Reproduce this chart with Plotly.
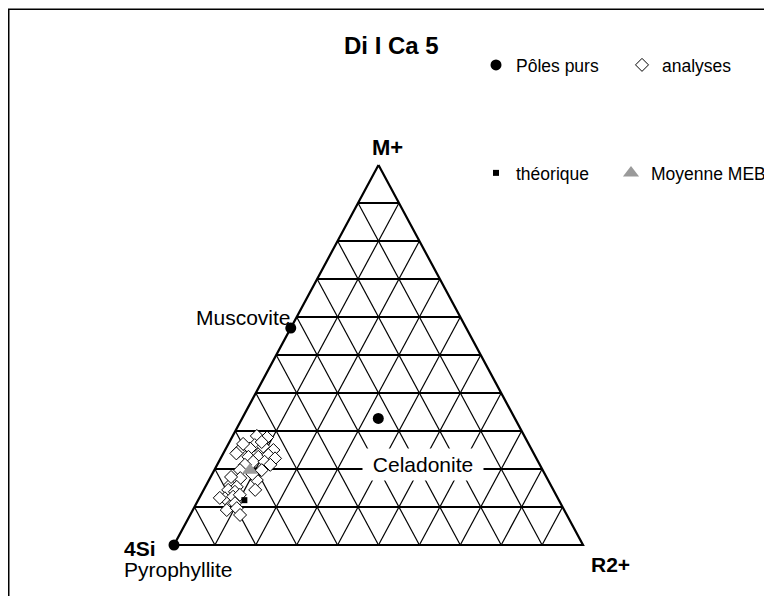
import numpy as np
import plotly.graph_objects as go

# ---------------- data (ternary fractions: M+, R2+ ; 4Si = 1 - M+ - R2+) ----------------
title_text = "Di I Ca 5"
vertex_labels = ["M+", "4Si", "R2+"]
grid_ticks = [0.1, 0.2, 0.3, 0.4, 0.5, 0.6, 0.7, 0.8, 0.9]

pole_names = ["Pyrophyllite", "Muscovite", "Celadonite"]
pole_M = [0.0, 0.571, 0.333]
pole_R = [0.0, 0.0, 0.333]

analyses_M = [0.287, 0.283, 0.250, 0.263, 0.246, 0.254, 0.259, 0.232, 0.232, 0.237,
              0.228, 0.219, 0.219, 0.211, 0.197, 0.171, 0.176, 0.187, 0.158, 0.153,
              0.145, 0.145, 0.140, 0.123, 0.127, 0.132, 0.110, 0.092, 0.097, 0.079,
              0.197, 0.211, 0.266, 0.271, 0.179, 0.124, 0.241]
analyses_R = [0.059, 0.086, 0.118, 0.066, 0.034, 0.059, 0.089, 0.066, 0.090, 0.112,
              0.133, 0.084, 0.112, 0.068, 0.063, 0.117, 0.074, 0.098, 0.058, 0.077,
              0.126, 0.060, 0.079, 0.063, 0.081, 0.095, 0.094, 0.083, 0.105, 0.122,
              0.116, 0.130, 0.036, 0.079, 0.050, 0.050, 0.032]

theo_M = [0.118]
theo_R = [0.113]

meb_M = [0.197]
meb_R = [0.087]


def tx(M, R):
    M = np.asarray(M, float)
    R = np.asarray(R, float)
    return R + M / 2.0


def ty(M, R):
    return np.asarray(M, float)


FONT = "Arial, Liberation Sans, sans-serif"
fig = go.Figure()

# ---------------- grid ----------------
hx, hy, sx, sy = [], [], [], []
for t in grid_ticks:
    # constant M+
    hx += [float(tx(t, 0)), float(tx(t, 1 - t)), None]
    hy += [float(ty(t, 0)), float(ty(t, 1 - t)), None]
    # constant R2+
    sx += [float(tx(0, t)), float(tx(1 - t, t)), None]
    sy += [float(ty(0, t)), float(ty(1 - t, t)), None]
    # constant 4Si
    sx += [float(tx(0, 1 - t)), float(tx(1 - t, 0)), None]
    sy += [float(ty(0, 1 - t)), float(ty(1 - t, 0)), None]

fig.add_trace(go.Scatter(x=sx, y=sy, mode="lines", line=dict(color="black", width=1.2),
                         hoverinfo="skip", showlegend=False))
fig.add_trace(go.Scatter(x=hx, y=hy, mode="lines", line=dict(color="black", width=2),
                         hoverinfo="skip", showlegend=False))
vM = [1, 0, 0, 1]
vR = [0, 0, 1, 0]
fig.add_trace(go.Scatter(x=tx(vM, vR), y=ty(vM, vR), mode="lines",
                         line=dict(color="black", width=2.2),
                         hoverinfo="skip", showlegend=False))

# ---------------- data marks ----------------
fig.add_trace(go.Scatter(x=tx(analyses_M, analyses_R), y=ty(analyses_M, analyses_R),
                         mode="markers", name="analyses", legend="legend", legendrank=2,
                         marker=dict(symbol="diamond", size=10, color="white",
                                     line=dict(color="black", width=1))))
fig.add_trace(go.Scatter(x=tx(theo_M, theo_R), y=ty(theo_M, theo_R),
                         mode="markers", name="théorique", legend="legend2",
                         marker=dict(symbol="square", size=6, color="black")))
fig.add_trace(go.Scatter(x=tx(meb_M, meb_R), y=ty(meb_M, meb_R),
                         mode="markers", name="Moyenne MEB", legend="legend3",
                         marker=dict(symbol="triangle-up", size=14, color="#9a9a9a")))
fig.add_trace(go.Scatter(x=tx(pole_M, pole_R), y=ty(pole_M, pole_R),
                         mode="markers", name="Pôles purs", legend="legend", legendrank=1,
                         text=pole_names,
                         marker=dict(symbol="circle", size=11, color="black")))

# ---------------- annotations ----------------
px_, py_ = tx(pole_M, pole_R), ty(pole_M, pole_R)
annos = [
    dict(x=px_[1], y=py_[1], text=pole_names[1], xanchor="right", yanchor="middle",
         xshift=2, yshift=11, font=dict(size=21, family=FONT, color="black")),
    dict(x=px_[2], y=py_[2], text=pole_names[2], xanchor="center", yanchor="middle",
         xshift=45, yshift=-46, bgcolor="white", borderpad=4, width=112,
         font=dict(size=21, family=FONT, color="black")),
    dict(x=px_[0], y=py_[0], text=pole_names[0], xanchor="left", yanchor="middle",
         xshift=-52, yshift=-24, font=dict(size=21, family=FONT, color="black")),
    dict(x=float(tx(1, 0)), y=float(ty(1, 0)), text="<b>%s</b>" % vertex_labels[0],
         xanchor="center", yanchor="middle", xshift=9, yshift=18,
         font=dict(size=22, family=FONT, color="black")),
    dict(x=float(tx(0, 0)), y=float(ty(0, 0)), text="<b>%s</b>" % vertex_labels[1],
         xanchor="left", yanchor="middle", xshift=-52, yshift=-3,
         font=dict(size=21, family=FONT, color="black")),
    dict(x=float(tx(0, 1)), y=float(ty(0, 1)), text="<b>%s</b>" % vertex_labels[2],
         xanchor="left", yanchor="middle", xshift=6, yshift=-19,
         font=dict(size=21, family=FONT, color="black")),
]
for a in annos:
    a.setdefault("showarrow", False)
    a.setdefault("xref", "x")
    a.setdefault("yref", "y")

W, H = 772, 596
OFF = 8.0  # page offset of the figure inside the browser window
x_left_px, x_right_px = 174.0 - OFF, 583.0 - OFF
y_base_px, y_apex_px = 545.0 - OFF, 165.0 - OFF
sxp = x_right_px - x_left_px
syp = y_base_px - y_apex_px

annos.append(dict(xref="paper", yref="paper", x=(391 - OFF) / W, y=1 - (46 - OFF) / H,
                  text="<b>%s</b>" % title_text, showarrow=False, xanchor="center",
                  yanchor="middle", font=dict(size=24, family=FONT, color="black")))

leg_common = dict(xanchor="left", yanchor="top", orientation="h", itemsizing="trace",
                  font=dict(size=17.5, family=FONT, color="black"),
                  bgcolor="rgba(0,0,0,0)", borderwidth=0)

fig.update_layout(
    width=W, height=H,
    margin=dict(l=0, r=0, t=0, b=0),
    paper_bgcolor="white", plot_bgcolor="white",
    xaxis=dict(range=[-x_left_px / sxp, (W - x_left_px) / sxp], visible=False,
               showgrid=False, zeroline=False, fixedrange=True),
    yaxis=dict(range=[-(H - y_base_px) / syp, y_base_px / syp], visible=False,
               showgrid=False, zeroline=False, fixedrange=True),
    annotations=annos,
    legend=dict(x=468 / W, y=1 - 39 / H, entrywidth=101, **leg_common),
    legend2=dict(x=468 / W, y=1 - 147 / H, **leg_common),
    legend3=dict(x=603 / W, y=1 - 147 / H, **leg_common),
    shapes=[dict(type="rect", xref="paper", yref="paper",
                 x0=0.75 / W, x1=1.2, y0=-0.2, y1=1 - 1.25 / H,
                 line=dict(color="black", width=1.5), fillcolor="rgba(0,0,0,0)")],
    showlegend=True,
)

fig.write_html("out.html")
